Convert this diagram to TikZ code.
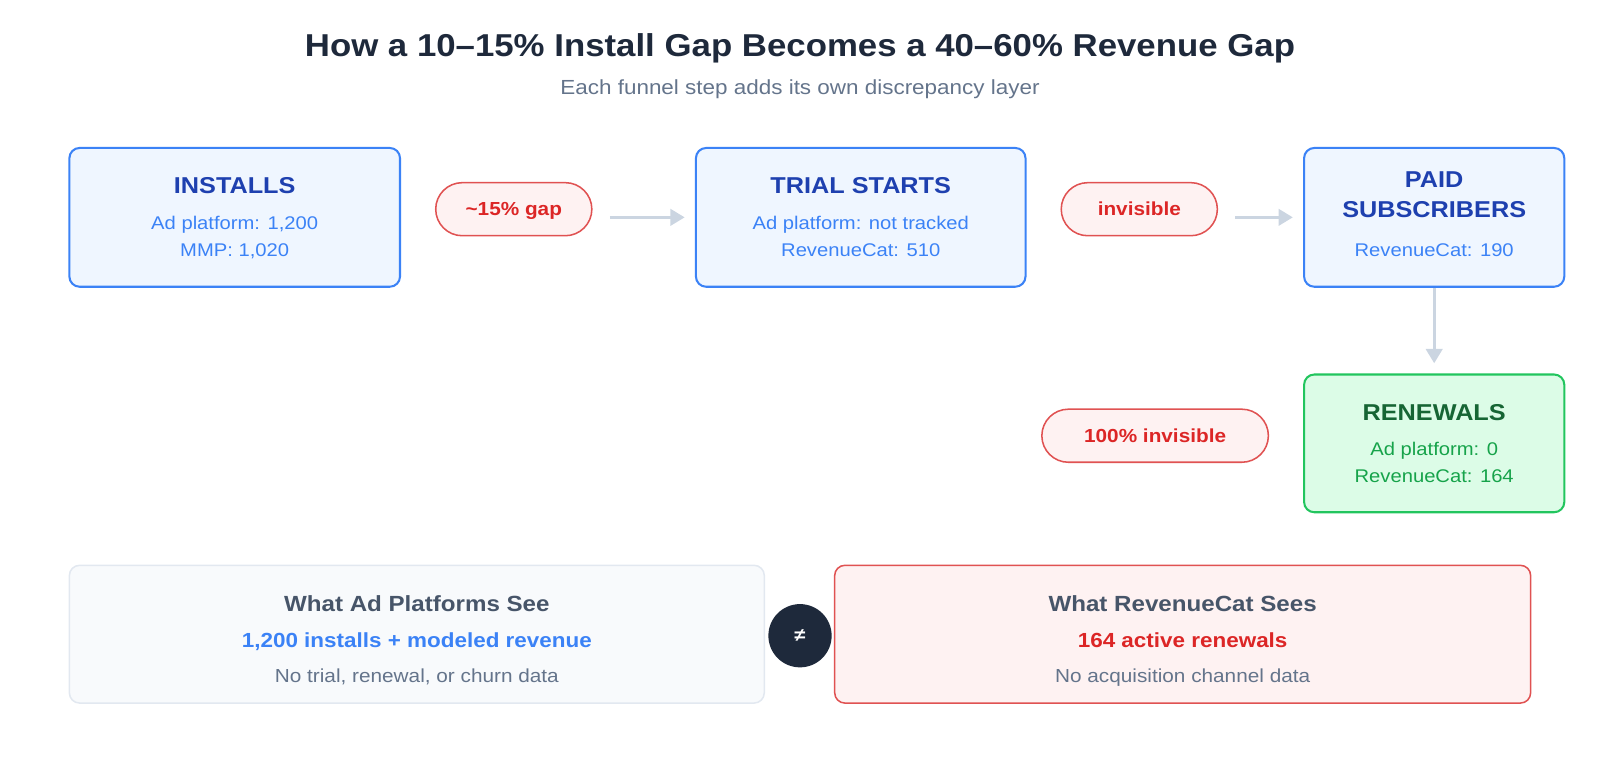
\documentclass[tikz,border=0pt]{standalone}
\usepackage{fontspec}
\setmainfont[FakeStretch=1.1]{Liberation Sans}
\usetikzlibrary{arrows.meta}

\definecolor{ink}{HTML}{1E293B}
\definecolor{slate}{HTML}{64748B}
\definecolor{slatedark}{HTML}{475569}
\definecolor{bluefill}{HTML}{EFF6FF}
\definecolor{blueline}{HTML}{3B82F6}
\definecolor{bluehead}{HTML}{1E40AF}
\definecolor{greenfill}{HTML}{DCFCE7}
\definecolor{greenline}{HTML}{22C55E}
\definecolor{greenhead}{HTML}{166534}
\definecolor{greentext}{HTML}{16A34A}
\definecolor{redfill}{HTML}{FEF2F2}
\definecolor{redline}{HTML}{E05252}
\definecolor{redtext}{HTML}{DC2626}
\definecolor{greyfill}{HTML}{F8FAFC}
\definecolor{greyline}{HTML}{E2E8F0}
\definecolor{arrowgrey}{HTML}{CBD5E1}

\begin{document}
\begin{tikzpicture}[x=1pt,y=-1pt,
  card/.style={draw=blueline,fill=bluefill,line width=2pt,rounded corners=10pt,inner sep=0pt},
  pill/.style={draw=redline,fill=redfill,line width=1.5pt,rounded corners=26pt,
    minimum height=52pt,inner sep=0pt,text=redtext,font=\bfseries\fontsize{18.5}{22}\selectfont,
    text height=13.2pt,text depth=0pt},
  head/.style={inner sep=0pt,text=bluehead,font=\bfseries\fontsize{22.5}{27}\selectfont,
    text height=16.1pt,text depth=0pt},
  body/.style={inner sep=0pt,text=blueline,font=\fontsize{18}{22}\selectfont,
    text height=12.9pt,text depth=0pt},
  flow/.style={draw=arrowgrey,line width=3pt,-{Triangle[length=14pt,width=16pt]}}]

\useasboundingbox (0,0) rectangle (1568,750);

% title
\node[inner sep=0pt,text=ink,font=\bfseries\fontsize{31}{36}\selectfont,text height=22.2pt,text depth=0pt] (title) at (784,44) {How a 10–15\% Install Gap Becomes a 40–60\% Revenue Gap};
\node[inner sep=0pt,text=slate,font=\fontsize{20}{24}\selectfont,text height=14.3pt,text depth=0pt] (subtitle) at (784,85) {Each funnel step adds its own discrepancy layer};

% funnel steps
\node[card,minimum width=324pt,minimum height=136pt] (installs) at (230,213) {};
\node[head] (installsH) at (230,182) {INSTALLS};
\node[body] (installsA) at (230,218) {Ad platform: 1,200};
\node[body] (installsB) at (230,245) {MMP: 1,020};

\node[card,minimum width=323pt,minimum height=136pt] (trial) at (843.5,213) {};
\node[head] (trialH) at (843.5,182) {TRIAL STARTS};
\node[body] (trialA) at (843.5,218) {Ad platform: not tracked};
\node[body] (trialB) at (843.5,245) {RevenueCat: 510};

\node[card,minimum width=255pt,minimum height=136pt] (paid) at (1405.5,213) {};
\node[head] (paidH) at (1405.5,176) {PAID};
\node[head] (paidH2) at (1405.5,205) {SUBSCRIBERS};
\node[body] (paidA) at (1405.5,245) {RevenueCat: 190};

\node[card,draw=greenline,fill=greenfill,minimum width=255pt,minimum height=135pt] (renew) at (1405.5,434.5) {};
\node[head,text=greenhead] (renewH) at (1405.5,404) {RENEWALS};
\node[body,text=greentext] (renewA) at (1405.5,440) {Ad platform: 0};
\node[body,text=greentext] (renewB) at (1405.5,466) {RevenueCat: 164};

% gap labels
\node[pill,minimum width=153pt] (gapA) at (503.5,205) {\textasciitilde15\% gap};
\node[pill,minimum width=153pt] (gapB) at (1116.5,205) {invisible};
\node[pill,minimum width=222pt] (gapC) at (1132,427) {100\% invisible};

\draw[flow,shorten <=17pt,shorten >=10pt] (gapA.east |- trial.west) -- (trial.west);
\draw[flow,shorten <=17pt,shorten >=10pt] (gapB.east |- paid.west) -- (paid.west);
\draw[flow,shorten >=10pt] (paid.south) -- (renew.north);

% comparison
\node[card,draw=greyline,fill=greyfill,line width=1.5pt,minimum width=681pt,minimum height=135pt] (adsee) at (408.5,621.5) {};
\node[head,text=slatedark,font=\bfseries\fontsize{21.5}{26}\selectfont,text height=15.4pt] (adseeH) at (408.5,592) {What Ad Platforms See};
\node[body,font=\bfseries\fontsize{20}{24}\selectfont,text height=14.3pt] (adseeA) at (408.5,627) {1,200 installs + modeled revenue};
\node[body,text=slate,font=\fontsize{18.5}{22}\selectfont,text height=13.2pt] (adseeB) at (408.5,662) {No trial, renewal, or churn data};

\node[card,draw=redline,fill=redfill,line width=1.5pt,minimum width=682pt,minimum height=135pt] (rcsee) at (1159,621.5) {};
\node[head,text=slatedark,font=\bfseries\fontsize{21.5}{26}\selectfont,text height=15.4pt] (rcseeH) at (1159,592) {What RevenueCat Sees};
\node[body,text=redtext,font=\bfseries\fontsize{20}{24}\selectfont,text height=14.3pt] (rcseeA) at (1159,627) {164 active renewals};
\node[body,text=slate,font=\fontsize{18.5}{22}\selectfont,text height=13.2pt] (rcseeB) at (1159,662) {No acquisition channel data};

\node[circle,fill=ink,minimum size=62pt,inner sep=0pt,text=white,font=\bfseries\fontsize{18}{20}\selectfont] (neq) at (784,623) {≠};

\end{tikzpicture}
\end{document}
